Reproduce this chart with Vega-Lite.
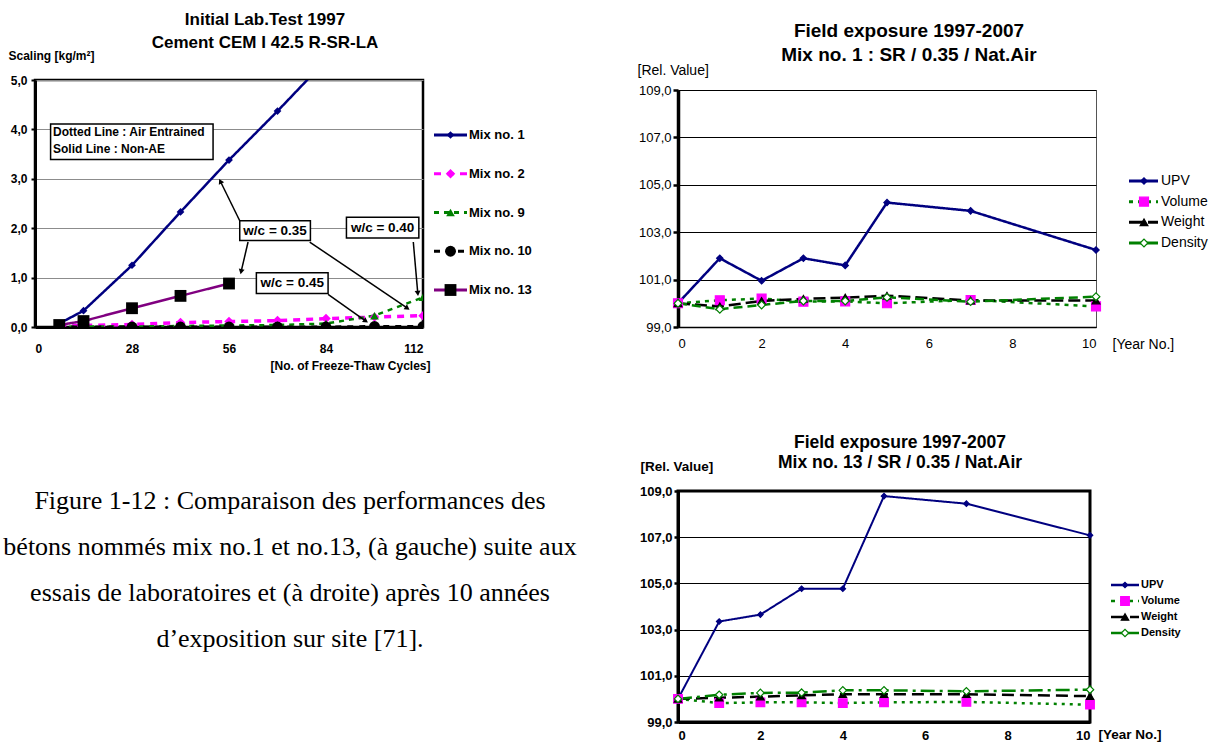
{
  "$schema": "https://vega.github.io/schema/vega-lite/v6.json",
  "background": "white",
  "padding": {"left": 3, "top": 9, "right": 0, "bottom": 0},
  "config": {
    "font": "Liberation Sans",
    "axis": {"labelColor": "black", "titleColor": "black", "domainColor": "black", "tickColor": "black"},
    "title": {"color": "black"}
  },
  "datasets": {
    "lab": [
      {"mix": "Mix no. 1", "cycles": 7, "scaling": 0.07},
      {"mix": "Mix no. 1", "cycles": 14, "scaling": 0.33},
      {"mix": "Mix no. 1", "cycles": 28, "scaling": 1.25},
      {"mix": "Mix no. 1", "cycles": 42, "scaling": 2.33},
      {"mix": "Mix no. 1", "cycles": 56, "scaling": 3.38},
      {"mix": "Mix no. 1", "cycles": 70, "scaling": 4.37},
      {"mix": "Mix no. 1", "cycles": 84, "scaling": 5.4},
      {"mix": "Mix no. 2", "cycles": 7, "scaling": 0.02},
      {"mix": "Mix no. 2", "cycles": 14, "scaling": 0.03},
      {"mix": "Mix no. 2", "cycles": 28, "scaling": 0.05},
      {"mix": "Mix no. 2", "cycles": 42, "scaling": 0.09},
      {"mix": "Mix no. 2", "cycles": 56, "scaling": 0.11},
      {"mix": "Mix no. 2", "cycles": 70, "scaling": 0.13},
      {"mix": "Mix no. 2", "cycles": 84, "scaling": 0.17},
      {"mix": "Mix no. 2", "cycles": 98, "scaling": 0.2},
      {"mix": "Mix no. 2", "cycles": 112, "scaling": 0.23},
      {"mix": "Mix no. 9", "cycles": 7, "scaling": 0.0},
      {"mix": "Mix no. 9", "cycles": 14, "scaling": 0.01},
      {"mix": "Mix no. 9", "cycles": 28, "scaling": 0.01},
      {"mix": "Mix no. 9", "cycles": 42, "scaling": 0.02},
      {"mix": "Mix no. 9", "cycles": 56, "scaling": 0.03},
      {"mix": "Mix no. 9", "cycles": 70, "scaling": 0.04},
      {"mix": "Mix no. 9", "cycles": 84, "scaling": 0.07},
      {"mix": "Mix no. 9", "cycles": 98, "scaling": 0.23},
      {"mix": "Mix no. 9", "cycles": 112, "scaling": 0.6},
      {"mix": "Mix no. 10", "cycles": 7, "scaling": 0.0},
      {"mix": "Mix no. 10", "cycles": 14, "scaling": 0.0},
      {"mix": "Mix no. 10", "cycles": 28, "scaling": 0.0},
      {"mix": "Mix no. 10", "cycles": 42, "scaling": 0.0},
      {"mix": "Mix no. 10", "cycles": 56, "scaling": 0.0},
      {"mix": "Mix no. 10", "cycles": 70, "scaling": 0.0},
      {"mix": "Mix no. 10", "cycles": 84, "scaling": 0.0},
      {"mix": "Mix no. 10", "cycles": 98, "scaling": 0.01},
      {"mix": "Mix no. 10", "cycles": 112, "scaling": 0.01},
      {"mix": "Mix no. 13", "cycles": 7, "scaling": 0.04},
      {"mix": "Mix no. 13", "cycles": 14, "scaling": 0.12},
      {"mix": "Mix no. 13", "cycles": 28, "scaling": 0.38},
      {"mix": "Mix no. 13", "cycles": 42, "scaling": 0.63},
      {"mix": "Mix no. 13", "cycles": 56, "scaling": 0.88}
    ],
    "labMixes": [
      {"mix": "Mix no. 1"}, {"mix": "Mix no. 2"}, {"mix": "Mix no. 9"}, {"mix": "Mix no. 10"}, {"mix": "Mix no. 13"}
    ],
    "boxes": [
      {"xa": 4.5, "xb": 51.4, "ya": 3.39, "yb": 4.11},
      {"xa": 59.1, "xb": 79.5, "ya": 1.75, "yb": 2.15},
      {"xa": 89.9, "xb": 110.8, "ya": 1.80, "yb": 2.22},
      {"xa": 63.9, "xb": 84.6, "ya": 0.68, "yb": 1.10}
    ],
    "noteLines": [
      {"tx": 5.2, "ty": 3.95, "label": "Dotted Line : Air Entrained"},
      {"tx": 5.2, "ty": 3.6, "label": "Solid Line : Non-AE"}
    ],
    "wcLabels": [
      {"tx": 69.3, "ty": 1.95, "label": "w/c = 0.35"},
      {"tx": 100.35, "ty": 2.01, "label": "w/c = 0.40"},
      {"tx": 74.25, "ty": 0.89, "label": "w/c = 0.45"}
    ],
    "arrows": [
      {"x": 59.1, "y": 2.15, "x2": 53.5, "y2": 2.95},
      {"x": 61.5, "y": 1.72, "x2": 59.5, "y2": 1.12},
      {"x": 79.3, "y": 1.72, "x2": 107.5, "y2": 0.38},
      {"x": 84.6, "y": 0.66, "x2": 95.5, "y2": 0.12},
      {"x": 109.2, "y": 1.72, "x2": 110.5, "y2": 0.68}
    ],
    "field1": [
      {"series": "UPV", "year": 0, "value": 100.0},
      {"series": "UPV", "year": 1, "value": 101.9},
      {"series": "UPV", "year": 2, "value": 100.95},
      {"series": "UPV", "year": 3, "value": 101.9},
      {"series": "UPV", "year": 4, "value": 101.6},
      {"series": "UPV", "year": 5, "value": 104.25},
      {"series": "UPV", "year": 7, "value": 103.9},
      {"series": "UPV", "year": 10, "value": 102.25},
      {"series": "Volume", "year": 0, "value": 100.0},
      {"series": "Volume", "year": 1, "value": 100.13},
      {"series": "Volume", "year": 2, "value": 100.2},
      {"series": "Volume", "year": 3, "value": 100.07},
      {"series": "Volume", "year": 4, "value": 100.08},
      {"series": "Volume", "year": 5, "value": 100.0},
      {"series": "Volume", "year": 7, "value": 100.14},
      {"series": "Volume", "year": 10, "value": 99.87},
      {"series": "Weight", "year": 0, "value": 100.0},
      {"series": "Weight", "year": 1, "value": 99.87},
      {"series": "Weight", "year": 2, "value": 100.1},
      {"series": "Weight", "year": 3, "value": 100.19},
      {"series": "Weight", "year": 4, "value": 100.24},
      {"series": "Weight", "year": 5, "value": 100.32},
      {"series": "Weight", "year": 7, "value": 100.12},
      {"series": "Weight", "year": 10, "value": 100.12},
      {"series": "Density", "year": 0, "value": 100.0},
      {"series": "Density", "year": 1, "value": 99.75},
      {"series": "Density", "year": 2, "value": 99.93},
      {"series": "Density", "year": 3, "value": 100.1},
      {"series": "Density", "year": 4, "value": 100.1},
      {"series": "Density", "year": 5, "value": 100.25},
      {"series": "Density", "year": 7, "value": 100.07},
      {"series": "Density", "year": 10, "value": 100.28}
    ],
    "field13": [
      {"series": "UPV", "year": 0, "value": 100.0},
      {"series": "UPV", "year": 1, "value": 103.35},
      {"series": "UPV", "year": 2, "value": 103.65},
      {"series": "UPV", "year": 3, "value": 104.77},
      {"series": "UPV", "year": 4, "value": 104.77},
      {"series": "UPV", "year": 5, "value": 108.78},
      {"series": "UPV", "year": 7, "value": 108.45},
      {"series": "UPV", "year": 10, "value": 107.08},
      {"series": "Volume", "year": 0, "value": 100.0},
      {"series": "Volume", "year": 1, "value": 99.82},
      {"series": "Volume", "year": 2, "value": 99.85},
      {"series": "Volume", "year": 3, "value": 99.85},
      {"series": "Volume", "year": 4, "value": 99.82},
      {"series": "Volume", "year": 5, "value": 99.85},
      {"series": "Volume", "year": 7, "value": 99.87},
      {"series": "Volume", "year": 10, "value": 99.75},
      {"series": "Weight", "year": 0, "value": 100.0},
      {"series": "Weight", "year": 1, "value": 100.05},
      {"series": "Weight", "year": 2, "value": 100.1},
      {"series": "Weight", "year": 3, "value": 100.15},
      {"series": "Weight", "year": 4, "value": 100.2},
      {"series": "Weight", "year": 5, "value": 100.2},
      {"series": "Weight", "year": 7, "value": 100.2},
      {"series": "Weight", "year": 10, "value": 100.12},
      {"series": "Density", "year": 0, "value": 100.0},
      {"series": "Density", "year": 1, "value": 100.18},
      {"series": "Density", "year": 2, "value": 100.26},
      {"series": "Density", "year": 3, "value": 100.27},
      {"series": "Density", "year": 4, "value": 100.37},
      {"series": "Density", "year": 5, "value": 100.37},
      {"series": "Density", "year": 7, "value": 100.33},
      {"series": "Density", "year": 10, "value": 100.4}
    ],
    "fieldSeries": [
      {"series": "UPV"}, {"series": "Volume"}, {"series": "Weight"}, {"series": "Density"}
    ],
    "caption": [
      {"line": "Figure 1-12 : Comparaison des performances des"},
      {"line": "bétons nommés mix no.1 et no.13, (à gauche) suite aux"},
      {"line": "essais de laboratoires et (à droite) après 10 années"},
      {"line": "d’exposition sur site [71]."}
    ]
  },
  "spacing": 59,
  "resolve": {"scale": {"stroke": "independent", "fill": "independent", "shape": "independent", "strokeDash": "independent"}},
  "hconcat": [
    {
      "spacing": 98,
      "resolve": {"scale": {"stroke": "independent", "fill": "independent", "shape": "independent", "strokeDash": "independent"}},
      "vconcat": [
        {
          "spacing": 0,
          "resolve": {"scale": {"stroke": "independent", "fill": "independent", "shape": "independent", "strokeDash": "independent"}},
          "hconcat": [
            {
              "width": 388,
              "height": 247,
              "view": {"stroke": "black", "strokeWidth": 2.5},
              "title": {"text": ["Initial Lab.Test 1997", "Cement CEM I 42.5 R-SR-LA"], "fontSize": 17, "fontWeight": "bold", "lineHeight": 23, "anchor": "middle", "dx": 36, "offset": -3},
              "layer": [
                {
                  "data": {"name": "lab"},
                  "mark": {"type": "line", "clip": true},
                  "encoding": {
                    "x": {"field": "cycles", "type": "quantitative", "scale": {"domain": [0, 112], "nice": false},
                      "axis": {"values": [0, 28, 56, 84, 112], "grid": false, "ticks": false, "labelFontSize": 12, "labelFontWeight": "bold", "labelPadding": 16, "domainWidth": 3,
                        "title": "[No. of Freeze-Thaw Cycles]", "titleFontSize": 12, "titleFontWeight": "bold", "titleX": 395, "titleY": 38, "titleAlign": "right", "titleBaseline": "middle"}},
                    "y": {"field": "scaling", "type": "quantitative", "scale": {"domain": [0, 5], "nice": false},
                      "axis": {"values": [0, 1, 2, 3, 4, 5], "grid": true, "gridColor": "#8c8c8c", "gridWidth": 1, "ticks": true, "tickSize": 4, "tickWidth": 2, "labelFontSize": 12, "labelFontWeight": "bold", "labelPadding": 4,
                        "labelExpr": "replace(format(datum.value, '.1f'), '.', ',')", "domainWidth": 3,
                        "title": "Scaling [kg/m²]", "titleAngle": 0, "titleX": -27, "titleY": -25, "titleAlign": "left", "titleBaseline": "middle", "titleFontSize": 12, "titleFontWeight": "bold"}},
                    "stroke": {"field": "mix", "type": "nominal", "legend": null,
                      "scale": {"domain": ["Mix no. 1", "Mix no. 2", "Mix no. 9", "Mix no. 10", "Mix no. 13"], "range": ["#000080", "#ff00ff", "#008000", "#000000", "#800080"]}},
                    "strokeDash": {"field": "mix", "type": "nominal", "legend": null,
                      "scale": {"domain": ["Mix no. 1", "Mix no. 2", "Mix no. 9", "Mix no. 10", "Mix no. 13"], "range": [[1, 0], [7, 6], [5, 5], [6, 6], [1, 0]]}},
                    "strokeWidth": {"condition": [{"test": "datum.mix === 'Mix no. 2'", "value": 3.5}, {"test": "datum.mix === 'Mix no. 10'", "value": 3}], "value": 2.5}
                  }
                },
                {
                  "data": {"name": "lab"},
                  "mark": {"type": "point", "filled": true, "clip": true, "opacity": 1},
                  "encoding": {
                    "x": {"field": "cycles", "type": "quantitative"},
                    "y": {"field": "scaling", "type": "quantitative"},
                    "shape": {"field": "mix", "type": "nominal", "legend": null,
                      "scale": {"domain": ["Mix no. 1", "Mix no. 2", "Mix no. 9", "Mix no. 10", "Mix no. 13"], "range": ["diamond", "diamond", "triangle-up", "circle", "square"]}},
                    "fill": {"field": "mix", "type": "nominal", "legend": null,
                      "scale": {"domain": ["Mix no. 1", "Mix no. 2", "Mix no. 9", "Mix no. 10", "Mix no. 13"], "range": ["#000080", "#ff00ff", "#008000", "#000000", "#000000"]}},
                    "size": {"condition": [{"test": "datum.mix === 'Mix no. 10'", "value": 120}, {"test": "datum.mix === 'Mix no. 13'", "value": 140}, {"test": "datum.mix === 'Mix no. 2'", "value": 90}, {"test": "datum.mix === 'Mix no. 9'", "value": 75}], "value": 60}
                  }
                },
                {
                  "data": {"name": "arrows"},
                  "mark": {"type": "rule", "strokeWidth": 1.5, "color": "black"},
                  "encoding": {
                    "x": {"field": "x", "type": "quantitative"},
                    "y": {"field": "y", "type": "quantitative"},
                    "x2": {"field": "x2"},
                    "y2": {"field": "y2"}
                  }
                },
                {
                  "data": {"name": "arrows"},
                  "transform": [{"calculate": "atan2((datum.x2 - datum.x) * 3.464, (datum.y2 - datum.y) * 49.4) * 180 / PI", "as": "ang"}],
                  "mark": {"type": "point", "shape": "triangle-up", "filled": true, "color": "black", "size": 35, "opacity": 1},
                  "encoding": {
                    "x": {"field": "x2", "type": "quantitative"},
                    "y": {"field": "y2", "type": "quantitative"},
                    "angle": {"field": "ang", "type": "quantitative", "scale": null}
                  }
                },
                {
                  "data": {"name": "boxes"},
                  "mark": {"type": "rect", "fill": "white", "stroke": "black", "strokeWidth": 1.5},
                  "encoding": {
                    "x": {"field": "xa", "type": "quantitative"},
                    "x2": {"field": "xb"},
                    "y": {"field": "ya", "type": "quantitative"},
                    "y2": {"field": "yb"}
                  }
                },
                {
                  "data": {"name": "noteLines"},
                  "mark": {"type": "text", "align": "left", "baseline": "middle", "fontSize": 12, "fontWeight": "bold", "color": "black"},
                  "encoding": {
                    "x": {"field": "tx", "type": "quantitative"},
                    "y": {"field": "ty", "type": "quantitative"},
                    "text": {"field": "label"}
                  }
                },
                {
                  "data": {"name": "wcLabels"},
                  "mark": {"type": "text", "align": "center", "baseline": "middle", "fontSize": 13.5, "fontWeight": "bold", "color": "black"},
                  "encoding": {
                    "x": {"field": "tx", "type": "quantitative"},
                    "y": {"field": "ty", "type": "quantitative"},
                    "text": {"field": "label"}
                  }
                }
              ]
            },
            {
              "width": 100,
              "height": 247,
              "view": {"stroke": null},
              "data": {"name": "labMixes"},
              "encoding": {
                "y": {"field": "mix", "type": "nominal", "sort": null, "axis": null,
                  "scale": {"type": "point", "padding": 0, "domain": ["Mix no. 1", "Mix no. 2", "Mix no. 9", "Mix no. 10", "Mix no. 13"], "range": [55, 210]}}
              },
              "layer": [
                {
                  "mark": {"type": "rule", "strokeWidth": 3},
                  "encoding": {
                    "x": {"datum": 0, "type": "quantitative", "scale": {"domain": [0, 100], "nice": false, "zero": false}, "axis": null},
                    "x2": {"datum": 33},
                    "stroke": {"field": "mix", "type": "nominal", "legend": null,
                      "scale": {"domain": ["Mix no. 1", "Mix no. 2", "Mix no. 9", "Mix no. 10", "Mix no. 13"], "range": ["#000080", "#ff00ff", "#008000", "#000000", "#800080"]}},
                    "strokeDash": {"field": "mix", "type": "nominal", "legend": null,
                      "scale": {"domain": ["Mix no. 1", "Mix no. 2", "Mix no. 9", "Mix no. 10", "Mix no. 13"], "range": [[1, 0], [7, 6], [5, 5], [6, 6], [1, 0]]}}
                  }
                },
                {
                  "mark": {"type": "point", "filled": true, "opacity": 1},
                  "encoding": {
                    "x": {"datum": 16.5, "type": "quantitative"},
                    "shape": {"field": "mix", "type": "nominal", "legend": null,
                      "scale": {"domain": ["Mix no. 1", "Mix no. 2", "Mix no. 9", "Mix no. 10", "Mix no. 13"], "range": ["diamond", "diamond", "triangle-up", "circle", "square"]}},
                    "fill": {"field": "mix", "type": "nominal", "legend": null,
                      "scale": {"domain": ["Mix no. 1", "Mix no. 2", "Mix no. 9", "Mix no. 10", "Mix no. 13"], "range": ["#000080", "#ff00ff", "#008000", "#000000", "#000000"]}},
                    "size": {"condition": [{"test": "datum.mix === 'Mix no. 10'", "value": 120}, {"test": "datum.mix === 'Mix no. 13'", "value": 140}, {"test": "datum.mix === 'Mix no. 2'", "value": 90}, {"test": "datum.mix === 'Mix no. 9'", "value": 75}], "value": 60}
                  }
                },
                {
                  "mark": {"type": "text", "align": "left", "baseline": "middle", "fontSize": 13, "fontWeight": "bold", "color": "black"},
                  "encoding": {
                    "x": {"datum": 35, "type": "quantitative"},
                    "text": {"field": "mix"}
                  }
                }
              ]
            }
          ]
        },
        {
          "width": 506,
          "height": 190,
          "view": {"stroke": null},
          "data": {"name": "caption"},
          "mark": {"type": "text", "font": "Liberation Serif", "fontSize": 26, "align": "center", "baseline": "middle", "color": "black"},
          "encoding": {
            "x": {"datum": 255, "type": "quantitative", "scale": {"domain": [0, 506], "nice": false, "zero": false}, "axis": null},
            "y": {"field": "line", "type": "nominal", "sort": null, "axis": null, "scale": {"type": "point", "padding": 0, "range": [30, 168]}},
            "text": {"field": "line"}
          }
        }
      ]
    },
    {
      "spacing": 80,
      "resolve": {"scale": {"stroke": "independent", "fill": "independent", "shape": "independent", "strokeDash": "independent"}},
      "vconcat": [
        {
          "spacing": -60,
          "resolve": {"scale": {"stroke": "independent", "fill": "independent", "shape": "independent", "strokeDash": "independent"}},
          "vconcat": [
            {
              "width": 1,
              "height": 1,
              "view": {"stroke": null},
              "data": {"values": []},
              "mark": {"type": "point", "opacity": 0},
              "encoding": {}
            },
            {
              "width": 418,
              "height": 237,
              "view": {"stroke": "#555", "strokeWidth": 1},
              "title": {"text": ["Field exposure 1997-2007", "Mix no. 1 : SR / 0.35 / Nat.Air"], "fontSize": 19, "fontWeight": "bold", "lineHeight": 24, "anchor": "middle", "dx": 22, "offset": -2},
              "resolve": {"scale": {"x": "independent", "y": "independent", "stroke": "independent", "fill": "independent", "shape": "independent", "strokeDash": "independent"}},
              "layer": [
                {
                  "data": {"name": "field1"},
                  "encoding": {
                    "x": {"field": "year", "type": "quantitative", "scale": {"domain": [0, 10], "nice": false},
                      "axis": {"orient": "bottom", "values": [0, 2, 4, 6, 8, 10], "format": "d", "grid": false, "ticks": false, "labelFontSize": 13, "labelPadding": 10, "domainWidth": 1.5,
                        "title": "[Year No.]", "titleFontSize": 14, "titleFontWeight": "normal", "titleX": 434, "titleY": 17, "titleAlign": "left", "titleBaseline": "middle"}},
                    "y": {"field": "value", "type": "quantitative", "scale": {"domain": [99, 109], "nice": false, "zero": false},
                      "axis": {"orient": "left", "values": [99, 101, 103, 105, 107, 109], "grid": true, "gridColor": "black", "gridWidth": 1, "ticks": true, "tickSize": 5, "tickWidth": 2.5, "labelFontSize": 13, "labelPadding": 2,
                        "labelExpr": "replace(format(datum.value, '.1f'), '.', ',')", "domainWidth": 3.5,
                        "title": "[Rel. Value]", "titleAngle": 0, "titleX": -41, "titleY": -20, "titleAlign": "left", "titleBaseline": "middle", "titleFontSize": 14, "titleFontWeight": "normal"}}
                  },
                  "resolve": {"scale": {"stroke": "independent"}},
                  "layer": [
                    {
                      "mark": {"type": "line", "strokeWidth": 2.5},
                      "encoding": {
                        "stroke": {"field": "series", "type": "nominal", "legend": null,
                          "scale": {"domain": ["UPV", "Volume", "Weight", "Density"], "range": ["#000080", "#008000", "#000000", "#008000"]}},
                        "strokeDash": {"field": "series", "type": "nominal", "legend": null,
                          "scale": {"domain": ["UPV", "Volume", "Weight", "Density"], "range": [[1, 0], [4, 5], [12, 5], [9, 5]]}}
                      }
                    },
                    {
                      "mark": {"type": "point", "filled": true, "strokeWidth": 1.2, "opacity": 1},
                      "encoding": {
                        "shape": {"field": "series", "type": "nominal", "legend": null,
                          "scale": {"domain": ["UPV", "Volume", "Weight", "Density"], "range": ["diamond", "square", "triangle-up", "diamond"]}},
                        "fill": {"field": "series", "type": "nominal", "legend": null,
                          "scale": {"domain": ["UPV", "Volume", "Weight", "Density"], "range": ["#000080", "#ff00ff", "#000000", "#ffffff"]}},
                        "stroke": {"field": "series", "type": "nominal", "legend": null,
                          "scale": {"domain": ["UPV", "Volume", "Weight", "Density"], "range": ["#000080", "#ff00ff", "#000000", "#008000"]}},
                        "size": {"condition": [{"test": "datum.series === 'UPV'", "value": 40}, {"test": "datum.series === 'Volume'", "value": 80}], "value": 60}
                      }
                    }
                  ]
                },
                {
                  "data": {"name": "fieldSeries"},
                  "encoding": {
                    "y": {"field": "series", "type": "nominal", "sort": null, "axis": null,
                      "scale": {"type": "point", "padding": 0, "domain": ["UPV", "Volume", "Weight", "Density"], "range": [91, 153]}}
                  },
                  "resolve": {"scale": {"stroke": "independent"}},
                  "layer": [
                    {
                      "mark": {"type": "rule", "strokeWidth": 3},
                      "encoding": {
                        "x": {"datum": 451, "type": "quantitative", "scale": {"domain": [0, 418], "nice": false, "zero": false}, "axis": null},
                        "x2": {"datum": 480},
                        "stroke": {"field": "series", "type": "nominal", "legend": null,
                          "scale": {"domain": ["UPV", "Volume", "Weight", "Density"], "range": ["#000080", "#008000", "#000000", "#008000"]}},
                        "strokeDash": {"field": "series", "type": "nominal", "legend": null,
                          "scale": {"domain": ["UPV", "Volume", "Weight", "Density"], "range": [[1, 0], [4, 5], [14, 5], [1, 0]]}}
                      }
                    },
                    {
                      "mark": {"type": "point", "filled": true, "strokeWidth": 1.2, "opacity": 1},
                      "encoding": {
                        "x": {"datum": 466, "type": "quantitative"},
                        "shape": {"field": "series", "type": "nominal", "legend": null,
                          "scale": {"domain": ["UPV", "Volume", "Weight", "Density"], "range": ["diamond", "square", "triangle-up", "diamond"]}},
                        "fill": {"field": "series", "type": "nominal", "legend": null,
                          "scale": {"domain": ["UPV", "Volume", "Weight", "Density"], "range": ["#000080", "#ff00ff", "#000000", "#ffffff"]}},
                        "stroke": {"field": "series", "type": "nominal", "legend": null,
                          "scale": {"domain": ["UPV", "Volume", "Weight", "Density"], "range": ["#000080", "#ff00ff", "#000000", "#008000"]}},
                        "size": {"condition": [{"test": "datum.series === 'UPV'", "value": 40}, {"test": "datum.series === 'Volume'", "value": 80}], "value": 60}
                      }
                    },
                    {
                      "mark": {"type": "text", "align": "left", "baseline": "middle", "fontSize": 14, "color": "black"},
                      "encoding": {
                        "x": {"datum": 483, "type": "quantitative"},
                        "text": {"field": "series"}
                      }
                    }
                  ]
                }
              ]
            }
          ]
        },
        {
          "width": 412,
          "height": 231,
          "view": {"stroke": "black", "strokeWidth": 3},
          "title": {"text": ["Field exposure 1997-2007", "Mix no. 13 / SR / 0.35 / Nat.Air"], "fontSize": 17.5, "fontWeight": "bold", "lineHeight": 20, "anchor": "middle", "dx": 16, "offset": -12},
          "resolve": {"scale": {"x": "independent", "y": "independent", "stroke": "independent", "fill": "independent", "shape": "independent", "strokeDash": "independent"}},
          "layer": [
            {
              "data": {"name": "field13"},
              "encoding": {
                "x": {"field": "year", "type": "quantitative", "scale": {"domain": [0, 10], "nice": false},
                  "axis": {"orient": "bottom", "values": [0, 2, 4, 6, 8, 10], "format": "d", "grid": false, "ticks": false, "labelFontSize": 13, "labelFontWeight": "bold", "labelPadding": 7, "domainWidth": 3,
                    "title": "[Year No.]", "titleFontSize": 13.5, "titleFontWeight": "bold", "titleX": 420, "titleY": 12, "titleAlign": "left", "titleBaseline": "middle"}},
                "y": {"field": "value", "type": "quantitative", "scale": {"domain": [99, 109], "nice": false, "zero": false},
                  "axis": {"orient": "left", "values": [99, 101, 103, 105, 107, 109], "grid": true, "gridColor": "black", "gridWidth": 1, "ticks": true, "tickSize": 4, "tickWidth": 2.5, "labelFontSize": 13, "labelFontWeight": "bold", "labelPadding": 2,
                    "labelExpr": "replace(format(datum.value, '.1f'), '.', ',')", "domainWidth": 3,
                    "title": "[Rel. Value]", "titleAngle": 0, "titleX": -38, "titleY": -25, "titleAlign": "left", "titleBaseline": "middle", "titleFontSize": 13.5, "titleFontWeight": "bold"}}
              },
              "resolve": {"scale": {"stroke": "independent"}},
              "layer": [
                {
                  "mark": {"type": "line"},
                  "encoding": {
                    "stroke": {"field": "series", "type": "nominal", "legend": null,
                      "scale": {"domain": ["UPV", "Volume", "Weight", "Density"], "range": ["#000080", "#008000", "#000000", "#008000"]}},
                    "strokeDash": {"field": "series", "type": "nominal", "legend": null,
                      "scale": {"domain": ["UPV", "Volume", "Weight", "Density"], "range": [[1, 0], [3, 5], [12, 6], [14, 5, 3, 5]]}},
                    "strokeWidth": {"condition": {"test": "datum.series === 'UPV'", "value": 2}, "value": 2.5}
                  }
                },
                {
                  "mark": {"type": "point", "filled": true, "strokeWidth": 1.2, "opacity": 1},
                  "encoding": {
                    "shape": {"field": "series", "type": "nominal", "legend": null,
                      "scale": {"domain": ["UPV", "Volume", "Weight", "Density"], "range": ["diamond", "square", "triangle-up", "diamond"]}},
                    "fill": {"field": "series", "type": "nominal", "legend": null,
                      "scale": {"domain": ["UPV", "Volume", "Weight", "Density"], "range": ["#000080", "#ff00ff", "#000000", "#ffffff"]}},
                    "stroke": {"field": "series", "type": "nominal", "legend": null,
                      "scale": {"domain": ["UPV", "Volume", "Weight", "Density"], "range": ["#000080", "#ff00ff", "#000000", "#008000"]}},
                    "size": {"condition": [{"test": "datum.series === 'UPV'", "value": 30}, {"test": "datum.series === 'Volume'", "value": 75}], "value": 55}
                  }
                }
              ]
            },
            {
              "data": {"name": "fieldSeries"},
              "encoding": {
                "y": {"field": "series", "type": "nominal", "sort": null, "axis": null,
                  "scale": {"type": "point", "padding": 0, "domain": ["UPV", "Volume", "Weight", "Density"], "range": [94, 142]}}
              },
              "resolve": {"scale": {"stroke": "independent"}},
              "layer": [
                {
                  "mark": {"type": "rule", "strokeWidth": 2.5},
                  "encoding": {
                    "x": {"datum": 433, "type": "quantitative", "scale": {"domain": [0, 412], "nice": false, "zero": false}, "axis": null},
                    "x2": {"datum": 461},
                    "stroke": {"field": "series", "type": "nominal", "legend": null,
                      "scale": {"domain": ["UPV", "Volume", "Weight", "Density"], "range": ["#000080", "#008000", "#000000", "#008000"]}},
                    "strokeDash": {"field": "series", "type": "nominal", "legend": null,
                      "scale": {"domain": ["UPV", "Volume", "Weight", "Density"], "range": [[1, 0], [4, 5], [14, 5], [1, 0]]}}
                  }
                },
                {
                  "mark": {"type": "point", "filled": true, "strokeWidth": 1.2, "opacity": 1},
                  "encoding": {
                    "x": {"datum": 447, "type": "quantitative"},
                    "shape": {"field": "series", "type": "nominal", "legend": null,
                      "scale": {"domain": ["UPV", "Volume", "Weight", "Density"], "range": ["diamond", "square", "triangle-up", "diamond"]}},
                    "fill": {"field": "series", "type": "nominal", "legend": null,
                      "scale": {"domain": ["UPV", "Volume", "Weight", "Density"], "range": ["#000080", "#ff00ff", "#000000", "#ffffff"]}},
                    "stroke": {"field": "series", "type": "nominal", "legend": null,
                      "scale": {"domain": ["UPV", "Volume", "Weight", "Density"], "range": ["#000080", "#ff00ff", "#000000", "#008000"]}},
                    "size": {"condition": [{"test": "datum.series === 'UPV'", "value": 30}, {"test": "datum.series === 'Volume'", "value": 75}], "value": 55}
                  }
                },
                {
                  "mark": {"type": "text", "align": "left", "baseline": "middle", "fontSize": 11, "fontWeight": "bold", "color": "black"},
                  "encoding": {
                    "x": {"datum": 463, "type": "quantitative"},
                    "text": {"field": "series"}
                  }
                }
              ]
            }
          ]
        }
      ]
    }
  ]
}
